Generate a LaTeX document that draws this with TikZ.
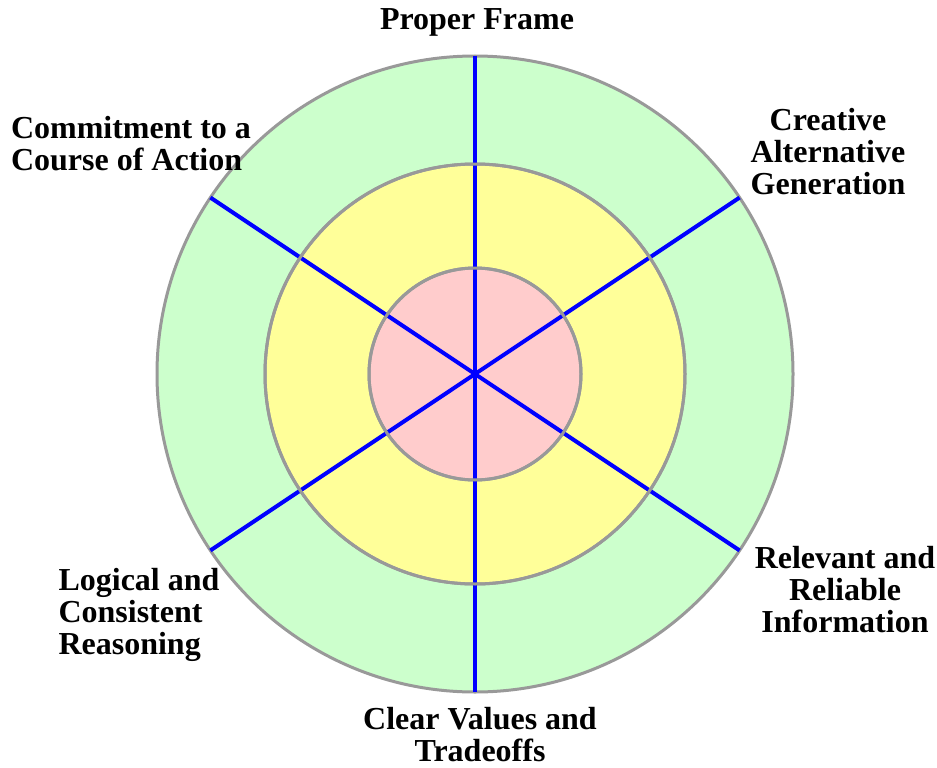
\documentclass[tikz,border=0pt]{standalone}
\usepackage{fontspec}
\setmainfont{Liberation Serif}
\begin{document}
\begin{tikzpicture}[x=1pt,y=-1pt,
  ring/.style={circle,inner sep=0pt,outer sep=0pt,draw=gray!80,line width=3pt},
  spoke/.style={draw=blue,line width=4pt},
  lbl/.style={font=\bfseries\fontsize{32}{32}\selectfont,align=center,inner sep=0pt}]
\useasboundingbox (0,0) rectangle (937,768);
\coordinate (c) at (475,374);
\node[ring,fill={rgb,255:red,204;green,255;blue,204},minimum size=636pt] (outer) at (c) {};
\node[ring,fill={rgb,255:red,255;green,255;blue,153},minimum size=420pt] (mid) at (c) {};
\node[ring,fill={rgb,255:red,255;green,204;blue,204},minimum size=212pt] (inner) at (c) {};
\path (c) ++(0,-318) coordinate (pt) (c) ++(0,318) coordinate (pb)
      (c) ++(33.7:318) coordinate (p1) (c) ++(146.3:318) coordinate (p2)
      (c) ++(-33.7:318) coordinate (p3) (c) ++(-146.3:318) coordinate (p4);
\draw[spoke] (pt) -- (pb);
\draw[spoke] (p1) -- (p4);
\draw[spoke] (p2) -- (p3);
\draw[draw=gray!80,line width=3pt] (c) circle[radius=210pt];
\draw[draw=gray!80,line width=3pt] (c) circle[radius=106pt];
\node[lbl] (l1) at (477,22) {Proper Frame};
\node[lbl] (l2) at (828,152) {Creative\\Alternative\\Generation};
\node[lbl] (l3) at (845,590) {Relevant and\\Reliable\\Information};
\node[lbl] (l4) at (480,735) {Clear Values and\\Tradeoffs};
\node[lbl,align=left] (l5) at (139,615) {Logical and\\Consistent\\Reasoning};
\node[lbl,align=left] (l6) at (131,144) {Commitment to a\\Course of Action};
\end{tikzpicture}
\end{document}
